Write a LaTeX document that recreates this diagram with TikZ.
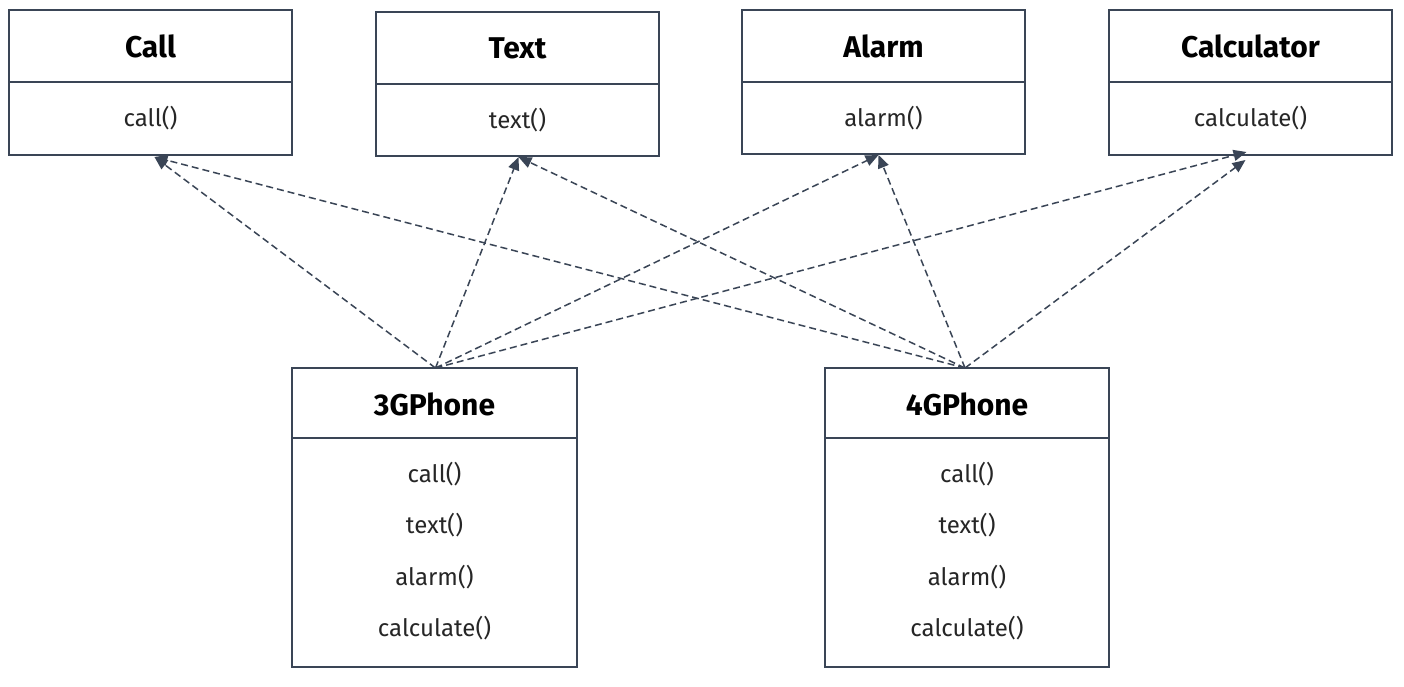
\documentclass[tikz,border=0pt]{standalone}
\usepackage{fontspec}
\setmainfont{Fira Sans}
\usetikzlibrary{arrows.meta,calc}
\definecolor{edge}{HTML}{3A4556}
\tikzset{
 cls/.style={draw=edge, line width=1.3pt, minimum width=283pt, inner sep=0pt, outer sep=0pt, anchor=north west},
 ttl/.style={font=\bfseries\fontsize{30}{32}\selectfont, text=black},
 meth/.style={font=\fontsize{24}{26}\selectfont, text=black!85},
 divider/.style={draw=edge, line width=1.3pt},
 dep/.style={draw=edge, line width=1.5pt, dash pattern=on 7pt off 4pt, -{Triangle[length=13pt,width=11pt]}}
}
\begin{document}
\begin{tikzpicture}[x=1pt,y=-1pt]
\useasboundingbox[fill=white] (0,0) rectangle (1404,686);
% top classes
\node[cls, minimum height=145pt] (call) at (9,10) {};
\node[cls, minimum height=144pt] (text) at (376,12) {};
\node[cls, minimum height=144pt] (alarm) at (742,10) {};
\node[cls, minimum height=145pt] (calc) at (1109,10) {};
\foreach \n in {call,text,alarm,calc}{
  \draw[divider] ($(\n.north west)+(0,72)$) -- ($(\n.north east)+(0,72)$);
}
\node[ttl] (callT) at ($(call.north)+(0,36)$) {Call};
\node[meth] (callM) at ($(call.north)+(0,108)$) {call()};
\node[ttl] (textT) at ($(text.north)+(0,36)$) {Text};
\node[meth] (textM) at ($(text.north)+(0,108)$) {text()};
\node[ttl] (alarmT) at ($(alarm.north)+(0,36)$) {Alarm};
\node[meth] (alarmM) at ($(alarm.north)+(0,108)$) {alarm()};
\node[ttl] (calcT) at ($(calc.north)+(0,36)$) {Calculator};
\node[meth] (calcM) at ($(calc.north)+(0,108)$) {calculate()};
% phones
\node[cls, minimum width=285pt, minimum height=299pt] (p3) at (292,368) {};
\node[cls, minimum width=284pt, minimum height=299pt] (p4) at (825,368) {};
\foreach \n in {p3,p4}{
  \draw[divider] ($(\n.north west)+(0,70)$) -- ($(\n.north east)+(0,70)$);
}
\node[ttl] (p3T) at ($(p3.north)+(0,36)$) {3GPhone};
\node[meth] (p3a) at ($(p3.north)+(0,106)$) {call()};
\node[meth] (p3b) at ($(p3.north)+(0,157)$) {text()};
\node[meth] (p3c) at ($(p3.north)+(0,209)$) {alarm()};
\node[meth] (p3d) at ($(p3.north)+(0,260)$) {calculate()};
\node[ttl] (p4T) at ($(p4.north)+(0,36)$) {4GPhone};
\node[meth] (p4a) at ($(p4.north)+(0,106)$) {call()};
\node[meth] (p4b) at ($(p4.north)+(0,157)$) {text()};
\node[meth] (p4c) at ($(p4.north)+(0,209)$) {alarm()};
\node[meth] (p4d) at ($(p4.north)+(0,260)$) {calculate()};
% connector end points
\coordinate (s3) at ($(p3.north)+(1,0)$);
\coordinate (s4) at ($(p4.north)+(-2,0)$);
\coordinate (tcall) at ($(call.south)+(4,2)$);
\coordinate (ttext) at ($(text.south)+(1,1)$);
\coordinate (talarm) at ($(alarm.south)+(-5,1)$);
\coordinate (tcalc3) at ($(calc.south)+(-4,-3)$);
\coordinate (tcalc4) at ($(calc.south)+(-5,5)$);
\draw[dep] (s3) -- (tcall);
\draw[dep] (s3) -- (ttext);
\draw[dep] (s3) -- (talarm);
\draw[dep] (s3) -- (tcalc3);
\draw[dep] (s4) -- (tcall);
\draw[dep] (s4) -- (ttext);
\draw[dep] (s4) -- (talarm);
\draw[dep] (s4) -- (tcalc4);
\end{tikzpicture}
\end{document}
